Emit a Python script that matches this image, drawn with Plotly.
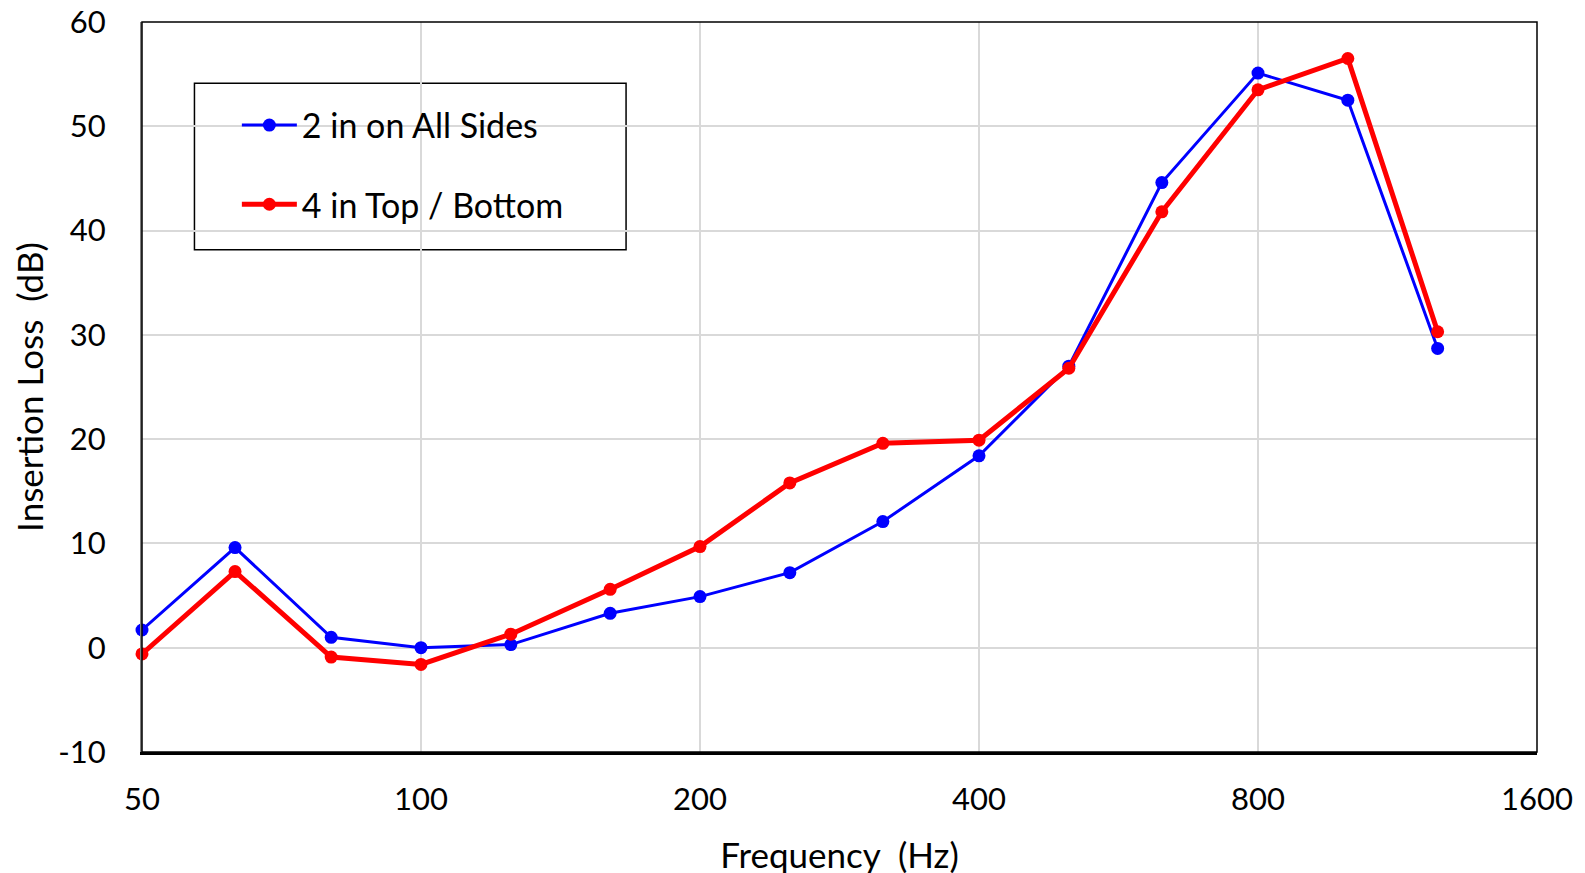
import plotly.graph_objects as go

freq = [50, 63, 80, 100, 125, 160, 200, 250, 315, 400, 500, 630, 800, 1000, 1250]
blue_vals = [1.7, 9.6, 1.0, 0.0, 0.3, 3.3, 4.9, 7.2, 12.1, 18.4, 27.0, 44.6, 55.1, 52.5, 28.7]
red_vals = [-0.6, 7.3, -0.9, -1.6, 1.3, 5.6, 9.7, 15.8, 19.6, 19.9, 26.8, 41.8, 53.5, 56.5, 30.3]
x_ticks = [50, 100, 200, 400, 800, 1600]
y_ticks = [-10, 0, 10, 20, 30, 40, 50, 60]
name_blue = "2 in on All Sides"
name_red = "4 in Top / Bottom"

FONT = "Lato"
fig = go.Figure()
fig.add_trace(go.Scatter(x=freq, y=blue_vals, name=name_blue, mode="lines+markers",
                         line=dict(color="#0000ff", width=3), marker=dict(size=13, color="#0000ff"),
                         legendgroup="a", cliponaxis=False))
fig.add_trace(go.Scatter(x=freq, y=red_vals, name=name_red, mode="lines+markers",
                         line=dict(color="#ff0000", width=5), marker=dict(size=13, color="#ff0000"),
                         legendgroup="b", cliponaxis=False))

fig.update_layout(
    width=1585, height=873,
    margin=dict(l=134, r=56, t=14, b=129),
    paper_bgcolor="white", plot_bgcolor="white",
    font=dict(family=FONT, size=29, color="black"),
    showlegend=True,
    legend=dict(x=0.068, y=0.898, xanchor="left", yanchor="top",
                bgcolor="rgba(0,0,0,0)", borderwidth=0,
                font=dict(family=FONT, size=34), tracegroupgap=32,
                itemwidth=55, traceorder="grouped"),
    xaxis=dict(type="log", range=[1.69897, 3.20412], tickvals=x_ticks,
               ticktext=[str(v) for v in x_ticks], tickfont=dict(size=31),
               showgrid=True, gridcolor="#d9d9d9", gridwidth=1.5,
               showline=True, linecolor="black", linewidth=3,
               ticks="", ticklabelstandoff=18, automargin=False,
               ticklabeloverflow="allow",
               title=dict(text="Frequency  (Hz)", standoff=28), zeroline=False),
    yaxis=dict(range=[-10, 60], tickvals=y_ticks,
               ticktext=[str(v) for v in y_ticks], tickfont=dict(size=31),
               showgrid=True, gridcolor="#d9d9d9", gridwidth=1.5,
               showline=True, linecolor="#808080", linewidth=2,
               ticks="", ticklabelstandoff=28, automargin=False,
               ticklabeloverflow="allow",
               title=dict(text="Insertion Loss  (dB)", standoff=16), zeroline=False),
    shapes=[
        dict(type="rect", xref="paper", yref="paper", x0=0, x1=1, y0=0, y1=1,
             line=dict(color="black", width=1.5), fillcolor="rgba(0,0,0,0)", layer="above"),
        dict(type="rect", xref="paper", yref="paper", x0=0.0376, x1=0.347, y0=0.688, y1=0.916,
             line=dict(color="black", width=1.5), fillcolor="white", layer="between"),
    ],
)

fig.write_html(
    "out.html",
    post_script="document.querySelectorAll('.main-svg').forEach(function(s){s.style.overflow='visible';});",
)
